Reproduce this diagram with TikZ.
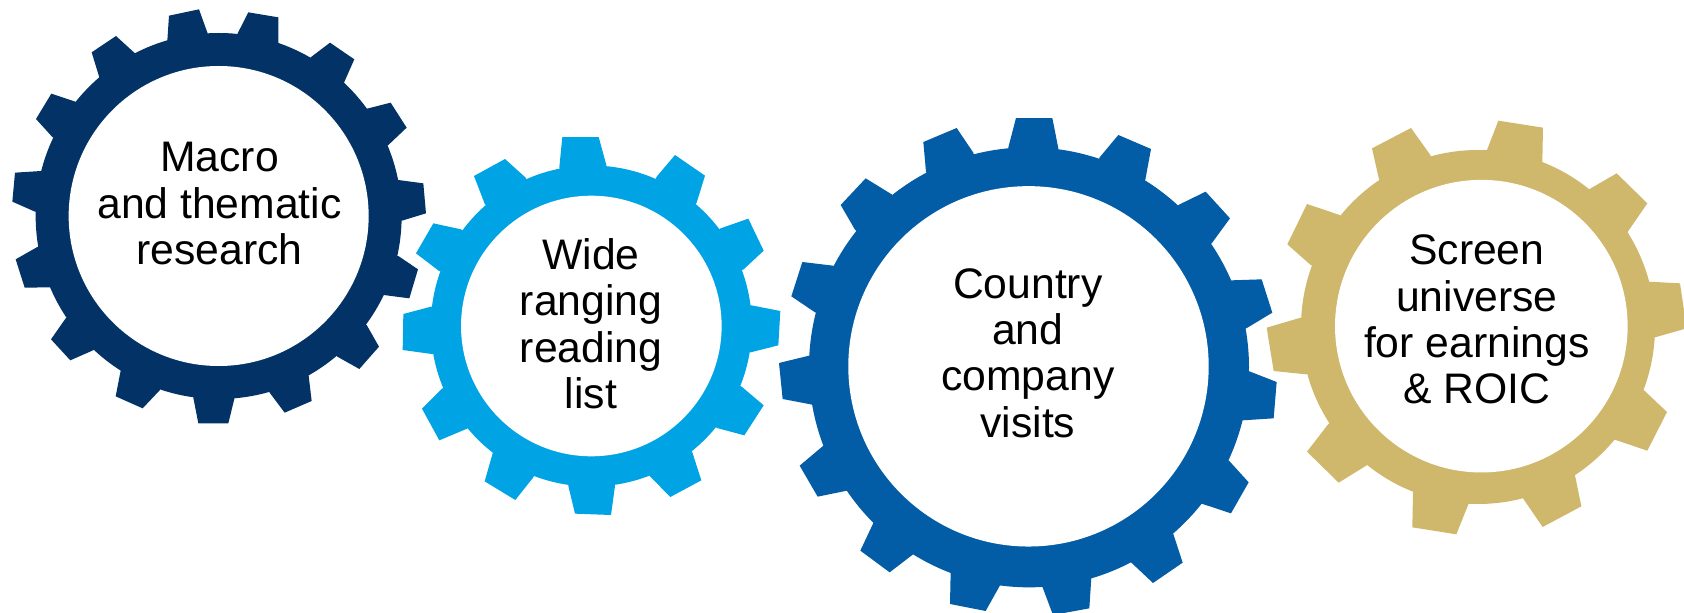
\documentclass[tikz,border=0pt]{standalone}
\usepackage{fontspec}
\setmainfont{Liberation Sans}
\definecolor{gnavy}{RGB}{3,51,102}
\definecolor{gcyan}{RGB}{0,163,228}
\definecolor{gblue}{RGB}{2,92,166}
\definecolor{ggold}{RGB}{207,183,107}
\newcommand{\tooth}[4]{\fill (hub) -- #1 -- #2 -- #3 -- #4 -- cycle;}
\tikzset{
  gearlabel/.style={inner sep=0pt,align=center,text=black,font=\fontsize{42.7}{46.4}\selectfont},
  zoomed/.style={x=0.33333pt,y=-0.33333pt}
}
\begin{document}
\begin{tikzpicture}[x=1pt,y=-1pt]
\fill[white] (0,0) rectangle (1684,613);
\useasboundingbox (0,0) rectangle (1684,613);
% Gear 1
\begin{scope}[shift={(0,0)},zoomed,fill=gnavy]
\coordinate (hub) at (656,648);
\tooth{(502,122)}{(507,47)}{(597,28)}{(623,100)}
\tooth{(713,100)}{(745,37)}{(835,52)}{(835,130)}
\tooth{(932,172)}{(990,128)}{(1063,178)}{(1032,248)}
\tooth{(1101,326)}{(1172,308)}{(1220,383)}{(1164,436)}
\tooth{(1195,540)}{(1270,550)}{(1278,640)}{(1206,662)}
\tooth{(1195,768)}{(1254,808)}{(1228,895)}{(1151,885)}
\tooth{(1100,975)}{(1137,1040)}{(1078,1107)}{(1012,1070)}
\tooth{(926,1127)}{(935,1203)}{(854,1238)}{(809,1178)}
\tooth{(703,1197)}{(685,1270)}{(595,1270)}{(580,1193)}
\tooth{(479,1171)}{(428,1225)}{(347,1189)}{(362,1112)}
\tooth{(279,1051)}{(211,1081)}{(153,1018)}{(197,955)}
\tooth{(149,862)}{(74,863)}{(47,778)}{(112,741)}
\tooth{(105,635)}{(37,605)}{(45,518)}{(123,513)}
\tooth{(157,411)}{(108,357)}{(154,281)}{(226,305)}
\tooth{(298,232)}{(275,157)}{(348,108)}{(405,160)}
\fill (hub) circle[radius=183pt];
\fill[white] (hub) circle[radius=150pt];
\end{scope}
% Gear 2
\begin{scope}[shift={(395,125)},zoomed,fill=gcyan]
\coordinate (hub) at (589,603);
\tooth{(493,127)}{(502,36)}{(611,36)}{(634,120)}
\tooth{(785,155)}{(840,90)}{(930,152)}{(905,233)}
\tooth{(977,310)}{(1060,281)}{(1106,377)}{(1046,433)}
\tooth{(1069,541)}{(1156,558)}{(1150,661)}{(1067,682)}
\tooth{(1040,785)}{(1106,841)}{(1048,931)}{(966,909)}
\tooth{(892,982)}{(919,1066)}{(826,1116)}{(765,1054)}
\tooth{(660,1083)}{(648,1170)}{(540,1166)}{(520,1083)}
\tooth{(415,1057)}{(361,1125)}{(269,1069)}{(293,985)}
\tooth{(216,911)}{(133,946)}{(81,851)}{(141,791)}
\tooth{(111,687)}{(23,675)}{(25,567)}{(108,545)}
\tooth{(131,437)}{(63,385)}{(115,295)}{(198,313)}
\tooth{(269,236)}{(237,153)}{(330,102)}{(392,158)}
\fill (hub) circle[radius=160.5pt];
\fill[white] (hub) circle[radius=130.3pt];
\end{scope}
% Gear 3
\begin{scope}[shift={(770,110)},zoomed,fill=gblue]
\coordinate (hub) at (777,772);
\tooth{(715,112)}{(738,24)}{(847,24)}{(865,115)}
\tooth{(989,142)}{(1045,75)}{(1143,117)}{(1126,209)}
\tooth{(1227,284)}{(1307,245)}{(1380,325)}{(1325,400)}
\tooth{(1385,511)}{(1475,508)}{(1507,608)}{(1429,655)}
\tooth{(1438,784)}{(1520,816)}{(1511,925)}{(1418,931)}
\tooth{(1377,1052)}{(1436,1117)}{(1383,1210)}{(1295,1181)}
\tooth{(1210,1272)}{(1238,1358)}{(1149,1419)}{(1083,1357)}
\tooth{(964,1403)}{(958,1495)}{(849,1515)}{(817,1430)}
\tooth{(690,1426)}{(647,1503)}{(540,1482)}{(542,1387)}
\tooth{(428,1334)}{(359,1387)}{(271,1322)}{(310,1239)}
\tooth{(231,1142)}{(143,1160)}{(89,1067)}{(159,1008)}
\tooth{(127,884)}{(38,867)}{(27,759)}{(117,737)}
\tooth{(135,607)}{(64,559)}{(97,456)}{(189,467)}
\tooth{(255,359)}{(212,285)}{(287,205)}{(365,253)}
\tooth{(468,185)}{(460,96)}{(560,54)}{(610,128)}
\fill (hub) circle[radius=220pt];
\coordinate (eye) at (775.5,769);
\fill[white] (eye) circle[radius=180.2pt];
\end{scope}
% Gear 4
\begin{scope}[shift={(1250,110)},zoomed,fill=ggold]
\coordinate (hub) at (684,651);
\tooth{(387,208)}{(366,115)}{(483,54)}{(541,135)}
\tooth{(711,120)}{(745,32)}{(879,53)}{(877,155)}
\tooth{(1017,238)}{(1100,190)}{(1192,280)}{(1132,367)}
\tooth{(1196,515)}{(1290,520)}{(1310,655)}{(1215,682)}
\tooth{(1181,840)}{(1251,906)}{(1192,1022)}{(1094,989)}
\tooth{(975,1096)}{(994,1189)}{(878,1251)}{(819,1165)}
\tooth{(655,1183)}{(619,1273)}{(487,1252)}{(489,1147)}
\tooth{(350,1066)}{(266,1118)}{(171,1025)}{(235,942)}
\tooth{(168,793)}{(71,783)}{(50,653)}{(152,623)}
\tooth{(182,465)}{(112,403)}{(171,282)}{(269,315)}
\fill (hub) circle[radius=177pt];
\coordinate (eye) at (694,648.5);
\fill[white] (eye) circle[radius=146.3pt];
\end{scope}
% Labels
\node[gearlabel] (macro) at (219.5,203.6) {Macro\\and thematic\\research};
\node[gearlabel] (wide) at (591,323.6) {Wide\\ranging\\reading\\list};
\node[gearlabel] (country) at (1027.8,353) {Country\\and\\company\\visits};
\node[gearlabel] (screen) at (1476.8,319.5) {Screen\\universe\\for earnings\\\& ROIC};
\end{tikzpicture}
\end{document}
